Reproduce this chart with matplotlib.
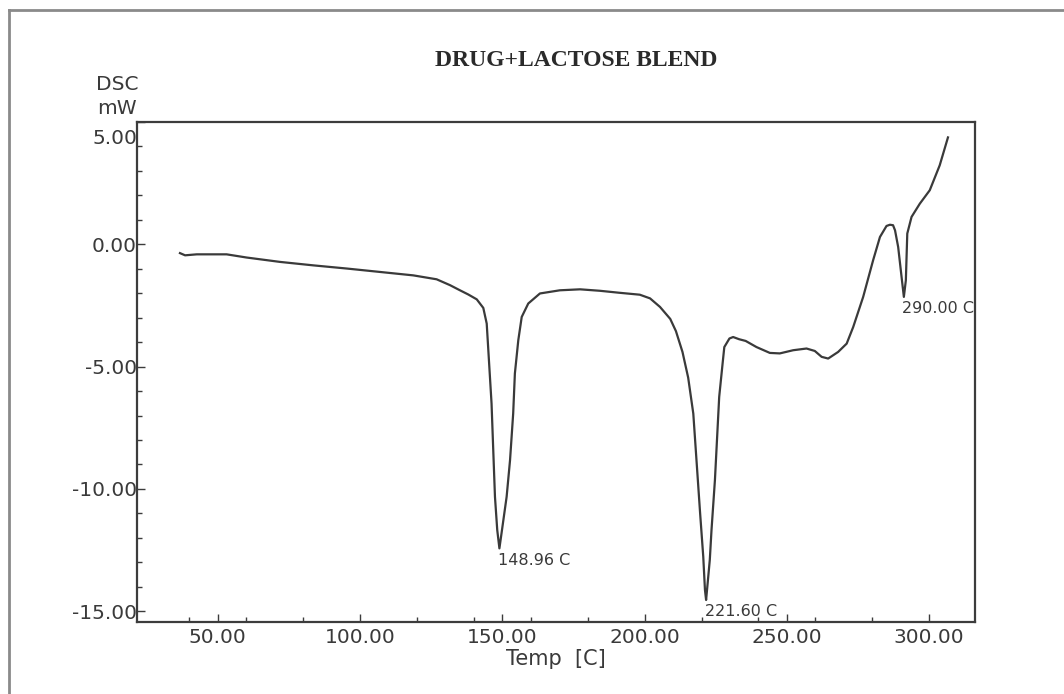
import matplotlib.pyplot as plt
from matplotlib.lines import Line2D
from matplotlib.ticker import MultipleLocator, FormatStrFormatter
from matplotlib.transforms import ScaledTranslation
import numpy as np

# ----------
# DATA

temp = [36.7, 38.5, 42.6, 53.1, 60.1, 71.9, 83.5, 95.3, 107.0, 118.7,
        126.9, 131.6, 135.1, 138.0, 141.0, 143.3, 144.5, 145.0, 146.2, 146.8,
        147.4, 148.2, 148.96, 149.7, 151.5, 152.7, 153.8, 154.4, 155.6, 156.8,
        159.1, 163.2, 170.2, 177.3, 184.3, 191.0, 198.3, 201.9, 205.4, 209.0,
        211.0, 213.3, 215.3, 217.1, 218.3, 219.5, 220.6, 221.2, 221.6, 222.9,
        223.5, 224.7, 225.6, 226.2, 227.4, 228.0, 229.8, 231.1, 233.2, 235.5,
        239.3, 244.0, 247.5, 252.2, 256.9, 259.8, 262.2, 264.5, 268.0, 271.0,
        273.3, 276.8, 280.3, 282.7, 285.0, 286.2, 287.3, 288.0, 289.1, 290.3,
        291.1, 291.8, 292.3, 293.8, 296.7, 300.2, 303.7, 306.6]
dsc = [-0.36, -0.45, -0.41, -0.41, -0.54, -0.72, -0.86, -0.99, -1.13, -1.27,
       -1.43, -1.67, -1.88, -2.05, -2.25, -2.60, -3.24, -4.20, -6.51, -8.42,
       -10.32, -11.68, -12.43, -11.82, -10.32, -8.82, -6.92, -5.28, -3.92, -2.97,
       -2.42, -2.01, -1.88, -1.84, -1.90, -1.98, -2.06, -2.21, -2.56, -3.05,
       -3.55, -4.40, -5.45, -6.92, -8.96, -11.00, -12.77, -14.13, -14.54, -12.90,
       -11.68, -9.64, -7.60, -6.24, -4.87, -4.20, -3.85, -3.79, -3.88, -3.95,
       -4.20, -4.44, -4.46, -4.33, -4.26, -4.36, -4.60, -4.67, -4.40, -4.06,
       -3.38, -2.15, -0.65, 0.30, 0.75, 0.80, 0.78, 0.57, -0.11, -1.34,
       -2.15, -1.47, 0.44, 1.12, 1.66, 2.21, 3.23, 4.37]

peak_labels = ["148.96 C", "221.60 C", "290.00 C"]
peak_windows = [(140, 160), (210, 230), (288, 295)]

xticks = [50, 100, 150, 200, 250, 300]
yticks = [-15, -10, -5, 0, 5]

# ---------
# FIGURE

fig = plt.figure(figsize=(10.64, 6.94), dpi=100)
ax = fig.add_axes([137/1064, 72/694, 838/1064, 500/694])

ax.plot(temp, dsc, color='#3a3a3a', lw=1.6)

ax.set_xlim(21.6, 316.1)
ax.set_ylim(-15.44, 5.0)

ax.xaxis.set_major_locator(plt.FixedLocator(xticks))
ax.xaxis.set_minor_locator(MultipleLocator(20))
ax.yaxis.set_major_locator(plt.FixedLocator(yticks))
ax.yaxis.set_minor_locator(MultipleLocator(1))
ax.xaxis.set_major_formatter(FormatStrFormatter('%.2f'))
ax.yaxis.set_major_formatter(FormatStrFormatter('%.2f'))

ax.tick_params(which='both', direction='in', color='#3c3c3c', width=1,
               labelsize=14.5, labelcolor='#3a3a3a')
ax.tick_params(which='major', length=6)
ax.tick_params(which='minor', length=3.5)
ax.tick_params(axis='y', pad=0)
ax.tick_params(axis='x', pad=4)
for s in ax.spines.values():
    s.set_color('#3c3c3c')
    s.set_linewidth(1.6)

ax.set_xlabel('Temp  [C]', fontsize=15, color='#3a3a3a', labelpad=2)

# peak labels at the minima of each window
t = np.array(temp)
d = np.array(dsc)
for lab, (lo, hi) in zip(peak_labels, peak_windows):
    m = (t >= lo) & (t <= hi)
    i = np.argmin(np.where(m, d, np.inf))
    ax.annotate(lab, (t[i], d[i]), xytext=(-1, -3), textcoords='offset points',
                ha='left', va='top', fontsize=11.5, color='#3a3a3a')

# top y label sits a little below its tick, as in the instrument print-out
fig.canvas.draw()
top_lab = ax.get_yticklabels()[-1]
top_lab.set_transform(top_lab.get_transform() + ScaledTranslation(0, -0.14, fig.dpi_scale_trans))

fig.text(117/1064, 1 - 85/694, 'DSC', ha='center', va='center', fontsize=14.5, color='#3a3a3a')
fig.text(117/1064, 1 - 108/694, 'mW', ha='center', va='center', fontsize=14.5, color='#3a3a3a')
fig.text(576/1064, 1 - 61/694, 'DRUG+LACTOSE BLEND', ha='center', va='center',
         fontsize=17, fontweight='bold', family='Liberation Serif', color='#2a2a2a')

# outer frame (only top and left edges are visible)
fig.add_artist(Line2D([9/1064, 9/1064], [0, 1 - 10/694], transform=fig.transFigure,
                      color='#8a8a8a', lw=2))
fig.add_artist(Line2D([9/1064, 1], [1 - 10/694, 1 - 10/694], transform=fig.transFigure,
                      color='#8a8a8a', lw=2))

fig.savefig('out.png', dpi=100)
